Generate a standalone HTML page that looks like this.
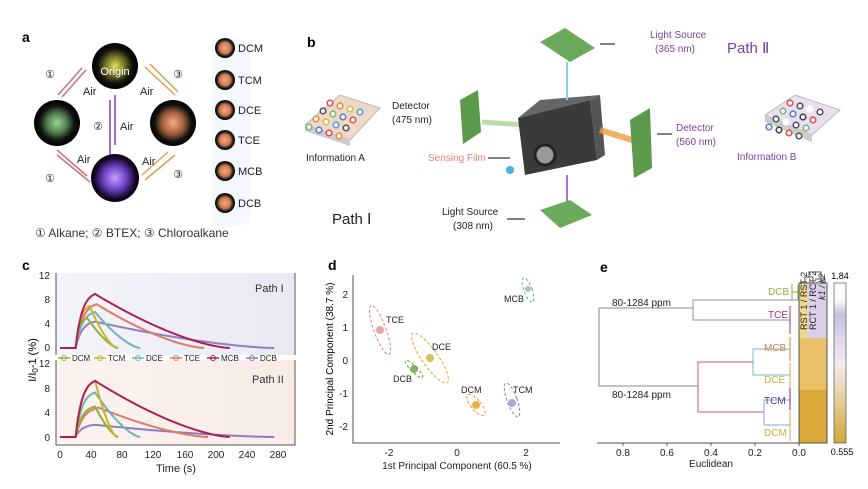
<!DOCTYPE html>
<html><head><meta charset="utf-8"><style>
body{margin:0;background:#fff}
svg{display:block;font-family:"Liberation Sans",sans-serif}
</style></head><body>
<svg id="s" width="868" height="489" viewBox="0 0 868 489" xmlns="http://www.w3.org/2000/svg">
<defs>
<radialGradient id="gy"><stop offset="0" stop-color="#e0e060"/><stop offset="0.45" stop-color="#6a6a20"/><stop offset="0.75" stop-color="#111"/><stop offset="1" stop-color="#000"/></radialGradient>
<radialGradient id="gg"><stop offset="0" stop-color="#9fd49a"/><stop offset="0.45" stop-color="#4d7a4a"/><stop offset="0.75" stop-color="#111"/><stop offset="1" stop-color="#000"/></radialGradient>
<radialGradient id="go"><stop offset="0" stop-color="#f7b080"/><stop offset="0.5" stop-color="#9a5a38"/><stop offset="0.8" stop-color="#111"/><stop offset="1" stop-color="#000"/></radialGradient>
<radialGradient id="gp"><stop offset="0" stop-color="#c7a0ff"/><stop offset="0.5" stop-color="#6a40c0"/><stop offset="0.85" stop-color="#180830"/><stop offset="1" stop-color="#000"/></radialGradient>
<radialGradient id="gs"><stop offset="0" stop-color="#f5a880"/><stop offset="0.55" stop-color="#d07850"/><stop offset="0.8" stop-color="#222"/><stop offset="1" stop-color="#000"/></radialGradient>
<linearGradient id="bgc1" x1="0" x2="1"><stop offset="0" stop-color="#f4f4fa"/><stop offset="1" stop-color="#e9e9f4"/></linearGradient>
<linearGradient id="bgc2" x1="0" x2="1"><stop offset="0" stop-color="#fbf3ef"/><stop offset="1" stop-color="#f8ebe6"/></linearGradient>
</defs>
<!-- panel a -->
<text x="22" y="42" font-size="14" font-weight="bold">a</text>
<path d="M212 40 Q240 35 250 45 L250 220 Q240 230 212 225" fill="#f3f6fa" opacity="0.8"/>
<circle cx="115" cy="66" r="23" fill="url(#gy)"/>
<text x="115" y="75" font-size="11" fill="#fff" text-anchor="middle">Origin</text>
<circle cx="57" cy="123" r="23" fill="url(#gg)"/>
<circle cx="173" cy="123" r="23" fill="url(#go)"/>
<circle cx="115" cy="178" r="24" fill="url(#gp)"/>
<g stroke-width="1.5" fill="none">
<path d="M82 68 L58 95" stroke="#d07080"/><path d="M62 97 L86 70" stroke="#d07080"/>
<path d="M57 155 L90 182" stroke="#d07080"/><path d="M57 150 L87 176" stroke="#d07080"/>
<path d="M145 67 L175 95" stroke="#e0a050"/><path d="M150 64 L178 92" stroke="#e0a050"/>
<path d="M145 180 L175 155" stroke="#e0a050"/><path d="M142 175 L168 152" stroke="#e0a050"/>
<path d="M110 100 L110 155" stroke="#8040c0"/><path d="M115 95 L115 145" stroke="#8040c0"/>
</g>
<g font-size="11" fill="#222">
<text x="50" y="78" text-anchor="middle">①</text><text x="83" y="95">Air</text>
<text x="50" y="182" text-anchor="middle">①</text><text x="77" y="163">Air</text>
<text x="178" y="78" text-anchor="middle">③</text><text x="140" y="95">Air</text>
<text x="178" y="178" text-anchor="middle">③</text><text x="142" y="165">Air</text>
<text x="98" y="130" text-anchor="middle">②</text><text x="120" y="130">Air</text>
</g>
<g font-size="11" fill="#222">
<circle cx="225" cy="48" r="10" fill="url(#gs)"/><text x="238" y="52">DCM</text>
<circle cx="225" cy="80" r="10" fill="url(#gs)"/><text x="238" y="84">TCM</text>
<circle cx="225" cy="110" r="10" fill="url(#gs)"/><text x="238" y="114">DCE</text>
<circle cx="225" cy="140" r="10" fill="url(#gs)"/><text x="238" y="144">TCE</text>
<circle cx="225" cy="171" r="10" fill="url(#gs)"/><text x="238" y="175">MCB</text>
<circle cx="225" cy="203" r="10" fill="url(#gs)"/><text x="238" y="207">DCB</text>
</g>
<text x="35" y="237" font-size="12" fill="#333">① Alkane; ② BTEX; ③ Chloroalkane</text>

<!-- panel b -->
<text x="307" y="47" font-size="14" font-weight="bold">b</text>
<g font-size="10" fill="#222">
<path d="M305 125 L340 95 L380 108 L350 140 Z" fill="#f0d8c8" stroke="#bbb"/>
<path d="M305 125 L350 140 L350 146 L305 131 Z" fill="#ccc"/>
<g id="dotsA"></g>
<text x="306" y="161">Information A</text>
<text x="392" y="109">Detector</text><text x="392" y="123">(475 nm)</text>
<path d="M462 112 L476 112" stroke="#000"/>
<path d="M460 100 L478 90 L481 132 L463 144 Z" fill="#5a9a4a"/>
<path d="M482 122 L525 125" stroke="#a0d080" stroke-width="5" opacity="0.7"/>
<path d="M518 118 L590 100 L597 160 L525 175 Z" fill="#3a3a3a"/>
<path d="M518 118 L540 100 L600 95 L590 100 Z" fill="#666"/>
<path d="M590 100 L600 95 L605 155 L597 160 Z" fill="#555"/>
<circle cx="545" cy="155" r="10" fill="#999" stroke="#222" stroke-width="3"/>
<circle cx="510" cy="170" r="4" fill="#4ab0e0"/>
<path d="M600 130 L632 140" stroke="#f0a040" stroke-width="6" opacity="0.8"/>
<path d="M630 120 L650 108 L652 168 L634 178 Z" fill="#5a9a4a"/>
<text x="428" y="161" fill="#e08080">Sensing Film</text><path d="M488 158 L510 158" stroke="#000"/>
<text x="676" y="131" fill="#7a3fa0">Detector</text><text x="676" y="145" fill="#7a3fa0">(560 nm)</text>
<path d="M657 134 L672 134" stroke="#000"/>
<path d="M565 28 L595 48 L570 62 L540 42 Z" fill="#6aaa5a"/>
<path d="M567 62 L567 100" stroke="#8ad0f0" stroke-width="2"/>
<text x="650" y="38" fill="#7a3fa0">Light Source</text><text x="655" y="52" fill="#7a3fa0">(365 nm)</text>
<path d="M600 44 L615 44" stroke="#000"/>
<path d="M567 175 L567 210" stroke="#b070d0" stroke-width="2"/>
<path d="M540 210 L570 200 L592 215 L560 228 Z" fill="#6aaa5a"/>
<text x="442" y="215">Light Source</text><text x="453" y="229">(308 nm)</text>
<path d="M507 219 L525 219" stroke="#000"/>
<path d="M765 115 L795 95 L840 110 L812 135 Z" fill="#e8e0f0" stroke="#bbb"/>
<path d="M765 115 L812 135 L812 142 L765 122 Z" fill="#ccc"/>
<g id="dotsB"></g>
<text x="737" y="160" fill="#7a3fa0">Information B</text>
<text x="727" y="53" font-size="15" fill="#7a3fa0">Path Ⅱ</text>
<text x="332" y="224" font-size="15" fill="#222">Path Ⅰ</text>
</g>

<!-- panel c -->
<text x="22" y="270" font-size="14" font-weight="bold">c</text>
<rect x="56" y="273" width="239" height="82" fill="url(#bgc1)"/>
<rect x="56" y="360" width="239" height="85" fill="url(#bgc2)"/>
<g stroke="#555" stroke-width="1" fill="none">
<path d="M56 273 L56 355 M56 360 L56 445 L295 445 L295 360 M295 273 L295 355"/>
</g>
<g id="cg"></g>
<g font-size="10" fill="#222" text-anchor="end">
<text x="50" y="279">12</text><text x="50" y="303">8</text><text x="50" y="327">4</text><text x="50" y="351">0</text>
<text x="50" y="367">12</text><text x="50" y="392">8</text><text x="50" y="416">4</text><text x="50" y="441">0</text>
</g>
<g font-size="10" fill="#222" text-anchor="middle">
<text x="60" y="458">0</text><text x="91" y="458">40</text><text x="122" y="458">80</text><text x="153" y="458">120</text><text x="185" y="458">160</text><text x="216" y="458">200</text><text x="247" y="458">240</text><text x="278" y="458">280</text>
<text x="176" y="472" font-size="11">Time (s)</text>
</g>
<text x="255" y="292" font-size="11" fill="#333">Path I</text>
<text x="252" y="383" font-size="11" fill="#333">Path II</text>
<text transform="translate(36,360) rotate(-90)" font-size="11" text-anchor="middle">I/I<tspan font-size="8" dy="2">0</tspan><tspan dy="-2">-1 (%)</tspan></text>
<g id="leg" font-size="8" fill="#222"></g>

<!-- panel d -->
<text x="328" y="270" font-size="14" font-weight="bold">d</text>
<g stroke="#555" fill="none"><path d="M353 275 L353 443 L560 443"/></g>
<g font-size="10" fill="#222" text-anchor="end">
<text x="348" y="298">2</text><text x="348" y="331">1</text><text x="348" y="364">0</text><text x="348" y="397">-1</text><text x="348" y="430">-2</text>
</g>
<g font-size="10" fill="#222" text-anchor="middle">
<text x="389" y="456">-2</text><text x="457" y="456">0</text><text x="526" y="456">2</text>
<text x="457" y="469" font-size="10">1st Principal Component (60.5 %)</text>
</g>
<text transform="translate(333,359) rotate(-90)" font-size="10" text-anchor="middle">2nd Principal Component (38.7 %)</text>
<g fill="none" stroke-dasharray="3,2" stroke-width="1">
<ellipse cx="380" cy="330" rx="6" ry="26" transform="rotate(-20 380 330)" stroke="#e08080"/>
<ellipse cx="430" cy="358" rx="8" ry="30" transform="rotate(-35 430 358)" stroke="#c8b030"/>
<ellipse cx="414" cy="369" rx="3" ry="12" transform="rotate(-45 414 369)" stroke="#6aa040"/>
<ellipse cx="476" cy="405" rx="5" ry="13" transform="rotate(-40 476 405)" stroke="#e0a020"/>
<ellipse cx="512" cy="400" rx="5" ry="18" transform="rotate(-20 512 400)" stroke="#8e7fc0"/>
<ellipse cx="528" cy="290" rx="4" ry="13" transform="rotate(-20 528 290)" stroke="#70b0a8"/>
</g>
<g>
<circle cx="380" cy="330" r="4" fill="#e08080" opacity="0.7"/>
<circle cx="430" cy="358" r="4" fill="#c8b030" opacity="0.8"/>
<circle cx="414" cy="369" r="4" fill="#6aa040" opacity="0.8"/>
<circle cx="476" cy="405" r="4" fill="#e0a020" opacity="0.8"/>
<circle cx="512" cy="403" r="4" fill="#8e7fc0" opacity="0.7"/>
<circle cx="528" cy="289" r="3" fill="#70b0a8" opacity="0.7"/>
</g>
<g font-size="9" fill="#222">
<text x="386" y="323">TCE</text><text x="432" y="350">DCE</text><text x="393" y="382">DCB</text>
<text x="461" y="393">DCM</text><text x="513" y="393">TCM</text><text x="504" y="302">MCB</text>
</g>

<!-- panel e -->
<text x="600" y="272" font-size="14" font-weight="bold">e</text>
<g stroke="#555" fill="none"><path d="M597 443 L799 443"/>
<path d="M623 443 v3 M667 443 v3 M711 443 v3 M755 443 v3 M799 443 v3"/></g>
<g font-size="10" fill="#222" text-anchor="middle">
<text x="623" y="456">0.8</text><text x="667" y="456">0.6</text><text x="711" y="456">0.4</text><text x="755" y="456">0.2</text><text x="799" y="456">0.0</text>
<text x="711" y="467">Euclidean</text>
</g>
<g fill="none" stroke-width="1">
<path d="M693 308 L599 308 L599 386 L698 386" stroke="#888"/>
<path d="M798 300 L693 300 L693 320 L790 320" stroke="#9a8ab8"/>
<path d="M790 349 L753 349 L753 375 L790 375" stroke="#7ab8c8"/>
<path d="M753 362 L698 362 L698 412 L764 412" stroke="#d05080"/>
<path d="M790 400 L764 400 L764 425 L790 425" stroke="#8aa8c8"/>
<path d="M798 300 v-15 M798 292 h-6 v-8 v16" stroke="#8ab040"/>
<path d="M790 320 v-14 v28" stroke="#a03080"/>
<path d="M790 349 v-12 v24" stroke="#d08040"/>
<path d="M790 375 v-12 v25" stroke="#c8b040"/>
<path d="M790 400 v-12 v22" stroke="#6030a0"/>
<path d="M790 425 v-14 v30" stroke="#c8b040"/>
</g>
<g font-size="10" fill="#222"><text x="612" y="306">80-1284 ppm</text><text x="612" y="398">80-1284 ppm</text></g>
<g font-size="10">
<text x="768" y="295" fill="#8ab040">DCB</text><text x="768" y="318" fill="#a03080">TCE</text>
<text x="764" y="351" fill="#d08040">MCB</text><text x="764" y="383" fill="#c8b040">DCE</text>
<text x="764" y="404" fill="#6030a0">TCM</text><text x="764" y="436" fill="#c8b040">DCM</text>
</g>
<rect x="799" y="283" width="28" height="160" fill="#e8c068"/>
<rect x="799" y="283" width="9" height="55" fill="#f0d890"/>
<rect x="808" y="283" width="19" height="55" fill="#d8d0e8"/>
<rect x="799" y="390" width="28" height="53" fill="#d8a838"/>
<rect x="799" y="283" width="28" height="160" fill="none" stroke="#555"/>
<g font-size="9" fill="#222">
<text transform="translate(807,330) rotate(-90)">RST 1 / RST 2</text>
<text transform="translate(816,330) rotate(-90)">RCT 1 / RCT 2</text>
<text transform="translate(825,300) rotate(-90)" font-style="italic">k1 / k2</text>
</g>
<path d="M805 283 v-6 h8 v6 M809 277 v-5 h12 v11 M815 279 h10 v4" stroke="#555" fill="none"/>
<defs><linearGradient id="cb" x1="0" y1="0" x2="0" y2="1"><stop offset="0" stop-color="#fff"/><stop offset="0.1" stop-color="#fff"/><stop offset="0.2" stop-color="#c8c0e0"/><stop offset="0.5" stop-color="#f4ecf0"/><stop offset="1" stop-color="#d4a838"/></linearGradient></defs>
<rect x="834" y="283" width="12" height="160" fill="url(#cb)" stroke="#555" stroke-width="0.7"/>
<text x="840" y="279" font-size="9" text-anchor="middle">1.84</text>
<text x="842" y="455" font-size="9" text-anchor="middle">0.555</text>
</svg>
<script>
var cols={DCM:"#8fb33a",TCM:"#c9b62a",DCE:"#6fb3b8",TCE:"#e07a6a",MCB:"#b0204f",DCB:"#8e7fc0"};
var d1=[["DCB",4.4,45,275],["TCE",7.3,47,185],["DCE",6,45,103],["DCM",5,35,75],["TCM",7,38,73],["MCB",9,45,218]];
var d2=[["DCB",2,45,275],["TCE",4.8,50,190],["DCE",7.3,45,103],["DCM",5,45,75],["TCM",9.2,45,73],["MCB",9.2,45,218]];
var g=document.getElementById("cg"),h="";
function curve(d,y0,sc){d.forEach(function(c){var p=[];for(var t=0;t<=c[3];t+=1){var v;if(t<20)v=0;else if(t<=c[2]){var u=(t-20)/(c[2]-20);v=c[1]*(1-Math.exp(-3*u))/(1-Math.exp(-3));}else{var u2=(c[3]-t)/(c[3]-c[2]);v=c[1]*Math.pow(u2,1.5);}p.push((60+t*0.779).toFixed(1)+","+(y0-v*sc).toFixed(1));}
h+='<polyline points="'+p.join(" ")+'" fill="none" stroke="'+cols[c[0]]+'" stroke-width="2"/>';});}
curve(d1,348,6);curve(d2,437,6.1);g.innerHTML=h;
var L=document.getElementById("leg"),s="",names=["DCM","TCM","DCE","TCE","MCB","DCB"],xs=[58,94,132,170,207,246];
names.forEach(function(n,i){s+='<line x1="'+xs[i]+'" y1="358" x2="'+(xs[i]+12)+'" y2="358" stroke="'+cols[n]+'" stroke-width="1.5"/><circle cx="'+(xs[i]+6)+'" cy="358" r="2.5" fill="none" stroke="'+cols[n]+'"/><text x="'+(xs[i]+14)+'" y="361">'+n+'</text>';});
L.innerHTML=s;
function dots(id,ox,oy,cl){var s="";var k=0;for(var r=0;r<4;r++)for(var c=0;c<4;c++){var x=ox+c*10+r*-7,y=oy+c*3+r*8;s+='<circle cx="'+x+'" cy="'+y+'" r="2.8" fill="#fff" stroke="'+cl[k%cl.length]+'" stroke-width="1.6"/>';k++;}document.getElementById(id).innerHTML=s;}
dots("dotsA",330,103,["#e05050","#e09040","#d0c040","#50a0e0","#555","#70c070","#5080d0"]);
dots("dotsB",790,103,["#e05050","#555","#fff","#555","#70c070","#5080d0","#444"]);
</script>
</body></html>
